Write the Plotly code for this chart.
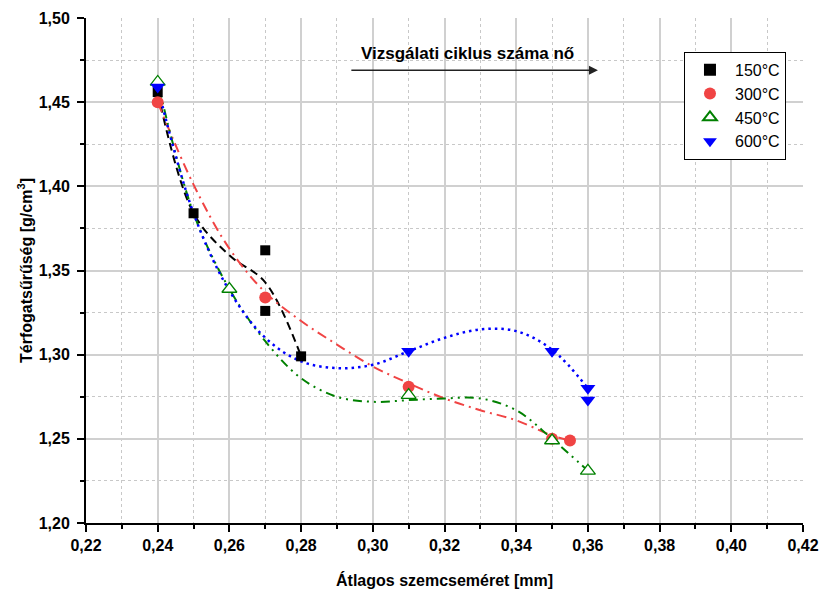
import plotly.graph_objects as go

# Measured points
x_150 = [0.24, 0.25, 0.27, 0.27, 0.28]
y_150 = [1.456, 1.384, 1.362, 1.326, 1.299]

x_300 = [0.24, 0.27, 0.31, 0.35, 0.355]
y_300 = [1.450, 1.334, 1.281, 1.250, 1.249]

x_450 = [0.24, 0.26, 0.31, 0.35, 0.36]
y_450 = [1.462, 1.339, 1.276, 1.249, 1.231]

x_600 = [0.24, 0.31, 0.35, 0.36, 0.36]
y_600 = [1.459, 1.302, 1.302, 1.280, 1.273]

# Smoothed trend curves
fit_x_150 = [0.24, 0.25, 0.26, 0.27, 0.28]
fit_y_150 = [1.456, 1.384, 1.359, 1.343, 1.299]

fit_x_300 = [0.24, 0.25, 0.26, 0.27, 0.28, 0.29, 0.30, 0.31, 0.32, 0.33, 0.34, 0.35, 0.355]
fit_y_300 = [1.450, 1.401, 1.363, 1.337, 1.320, 1.306, 1.293, 1.283, 1.274, 1.267, 1.261, 1.252, 1.249]

fit_x_450 = [0.24, 0.25, 0.26, 0.27, 0.28, 0.29, 0.30, 0.31, 0.32, 0.33, 0.34, 0.35, 0.36]
fit_y_450 = [1.462, 1.384, 1.339, 1.308, 1.286, 1.275, 1.272, 1.273, 1.274, 1.274, 1.267, 1.250, 1.231]

fit_x_600 = [0.24, 0.25, 0.26, 0.27, 0.28, 0.29, 0.30, 0.31, 0.32, 0.33, 0.34, 0.35, 0.36]
fit_y_600 = [1.459, 1.384, 1.338, 1.310, 1.296, 1.292, 1.294, 1.302, 1.310, 1.315, 1.314, 1.303, 1.280]

labels = ["150°C", "300°C", "450°C", "600°C"]
colors = ["#000000", "#F04444", "#008000", "#0000FF"]

FONT = "Liberation Sans, Arial, sans-serif"

fig = go.Figure()

# trend lines (drawn first, below markers)
fig.add_trace(go.Scatter(x=fit_x_150, y=fit_y_150, mode="lines", line_shape="spline",
                         line=dict(color=colors[0], width=2, dash="8px,5px"), showlegend=False, hoverinfo="skip"))
fig.add_trace(go.Scatter(x=fit_x_300, y=fit_y_300, mode="lines", line_shape="spline",
                         line=dict(color=colors[1], width=2, dash="10px,5px,2px,5px"), showlegend=False, hoverinfo="skip"))
fig.add_trace(go.Scatter(x=fit_x_450, y=fit_y_450, mode="lines", line_shape="spline",
                         line=dict(color=colors[2], width=2, dash="9px,5px,2px,5px,2px,5px"), showlegend=False, hoverinfo="skip"))
fig.add_trace(go.Scatter(x=fit_x_600, y=fit_y_600, mode="lines", line_shape="spline",
                         line=dict(color=colors[3], width=2.5, dash="2.5px,4px"), showlegend=False, hoverinfo="skip"))

# markers
fig.add_trace(go.Scatter(x=x_150, y=y_150, mode="markers", name=labels[0],
                         marker=dict(symbol="square", size=10, color=colors[0])))
fig.add_trace(go.Scatter(x=x_300, y=y_300, mode="markers", name=labels[1],
                         marker=dict(symbol="circle", size=12, color=colors[1])))
fig.add_trace(go.Scatter(x=x_450, y=y_450, mode="markers", name=labels[2],
                         marker=dict(symbol="triangle-up", size=13, color="white",
                                     line=dict(width=1.3, color=colors[2]))))
fig.add_trace(go.Scatter(x=x_600, y=y_600, mode="markers", name=labels[3],
                         marker=dict(symbol="triangle-down", size=13, color=colors[3])))

xr = [0.22, 0.42]
yr = [1.20, 1.50]
grid_major = "#D0D0D0"
grid_minor = "#C8C8C8"
tick_font = dict(family=FONT, size=16, weight="bold")
title_font = dict(family=FONT, size=16, weight="bold")

fig.update_layout(
    width=821, height=596,
    margin=dict(l=86, r=18, t=18, b=73, autoexpand=False),
    paper_bgcolor="white", plot_bgcolor="white",
    separators=",.",
    font=dict(family=FONT, color="black"),
    xaxis=dict(
        range=xr, dtick=0.02, tick0=0.22, tickformat=".2f", automargin=False,
        ticks="outside", ticklen=7, tickwidth=2, tickcolor="black",
        showline=True, linecolor="black", linewidth=2,
        showgrid=True, gridcolor=grid_major, gridwidth=1.5, zeroline=False,
        tickfont=tick_font,
        minor=dict(dtick=0.01, ticks="outside", ticklen=4, tickwidth=2, tickcolor="black",
                   showgrid=True, gridcolor=grid_minor, gridwidth=1, griddash="dot"),
        title=dict(text="Átlagos szemcseméret [mm]", font=title_font, standoff=22),
    ),
    yaxis=dict(
        range=yr, dtick=0.05, tick0=1.20, tickformat=".2f", automargin=False,
        ticks="outside", ticklen=7, tickwidth=2, tickcolor="black", ticklabelstandoff=4,
        showline=True, linecolor="black", linewidth=2,
        showgrid=True, gridcolor=grid_major, gridwidth=1.5, zeroline=False,
        tickfont=tick_font,
        minor=dict(dtick=0.025, ticks="outside", ticklen=4, tickwidth=2, tickcolor="black",
                   showgrid=True, gridcolor=grid_minor, gridwidth=1, griddash="dot"),
        title=dict(text="Térfogatsűrűség [g/cm<sup>3</sup>]", font=title_font, standoff=2),
    ),
    xaxis2=dict(
        range=xr, dtick=0.02, tick0=0.22, overlaying="x", side="top", anchor="y", automargin=False,
        ticks="inside", ticklen=7, tickwidth=2, tickcolor="black",
        showline=True, linecolor="black", linewidth=2, showgrid=False, zeroline=False,
        showticklabels=False,
        minor=dict(dtick=0.01, ticks="inside", ticklen=4, tickwidth=2, tickcolor="black", showgrid=False),
    ),
    yaxis2=dict(
        range=yr, dtick=0.05, tick0=1.20, overlaying="y", side="right", anchor="x", automargin=False,
        ticks="inside", ticklen=7, tickwidth=2, tickcolor="black",
        showline=True, linecolor="black", linewidth=2, showgrid=False, zeroline=False,
        showticklabels=False,
        minor=dict(dtick=0.025, ticks="inside", ticklen=4, tickwidth=2, tickcolor="black", showgrid=False),
    ),
    legend=dict(
        x=0.834, y=0.933, xanchor="left", yanchor="top",
        bgcolor="white", bordercolor="black", borderwidth=1,
        font=dict(family=FONT, size=16), itemsizing="constant", itemwidth=40,
        tracegroupgap=0,
    ),
    showlegend=True,
)

# direction arrow with caption
fig.add_annotation(x=0.3628, y=1.469, ax=0.2936, ay=1.469, xref="x", yref="y", axref="x", ayref="y",
                   text="", showarrow=True, arrowhead=2, arrowsize=1.2, arrowwidth=1.5, arrowcolor="#222222")
fig.add_annotation(x=0.3263, y=1.479, xref="x", yref="y", text="Vizsgálati ciklus száma nő",
                   showarrow=False, font=dict(family=FONT, size=17, weight="bold", color="black"))

fig.write_html("out.html")
